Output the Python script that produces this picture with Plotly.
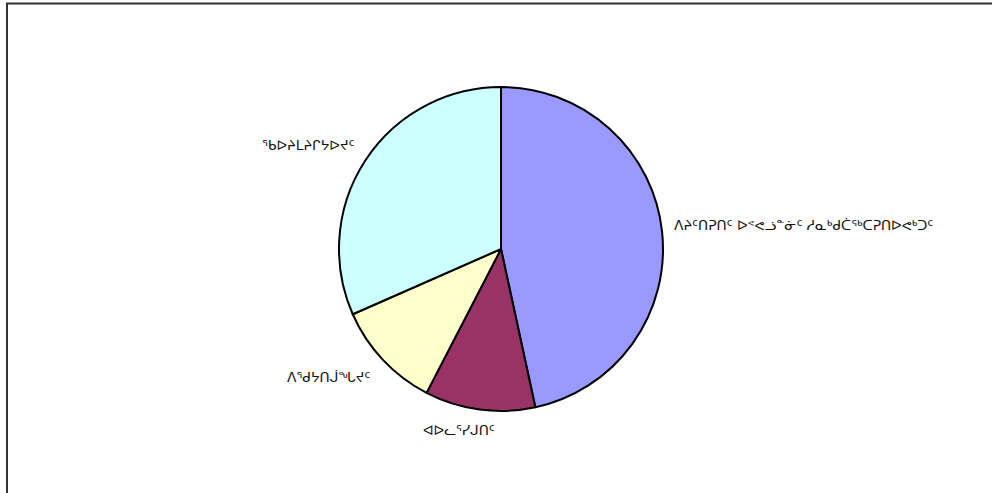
import math
import plotly.graph_objects as go

categories = [
    "ᐱᔨᑦᑎᕈᑎᑦ ᐅᕝᕙᓘᓐᓃᑦ ᓱᓇᒃᑯᑖᖅᑕᕈᑎᐅᕙᒃᑐᑦ",
    "ᐊᐅᓚᕐᓯᒍᑎᑦ",
    "ᐱᖁᔭᑎᒎᖓᔪᑦ",
    "ᖃᐅᔨᒪᔨᒋᔭᐅᔪᑦ",
]
values = [46.6, 11.0, 10.8, 31.6]
colors = ["#9999FF", "#993366", "#FFFFCC", "#CCFFFF"]

W, H = 992, 493
cx, cy, r = 501, 249, 162

fig = go.Figure(go.Pie(
    labels=categories,
    values=values,
    sort=False,
    direction="clockwise",
    rotation=0,
    marker=dict(colors=colors, line=dict(color="black", width=2)),
    textinfo="none",
    showlegend=False,
    hoverinfo="label+percent",
    domain=dict(x=[(cx - r) / W, (cx + r) / W],
                y=[(H - cy - r) / H, (H - cy + r) / H]),
))

# label placement derived from slice mid-angles
label_shift = [(0, 6), (-19, 0), (-4, 0), (0, 0)]
total = sum(values)
acc = 0.0
annotations = []
for lab, v, (dx, dy) in zip(categories, values, label_shift):
    mid = (acc + v / 2) / total * 2 * math.pi
    acc += v
    s, c = math.sin(mid), math.cos(mid)
    px = cx + (r + 10) * s
    py = cy - (r + 10) * c
    xa = "left" if s > 0.3 else ("right" if s < -0.3 else "center")
    ya = "bottom" if c > 0.3 else ("top" if c < -0.3 else "middle")
    annotations.append(dict(
        text=lab, x=px / W, y=1 - py / H, xref="paper", yref="paper",
        xanchor=xa, yanchor=ya, showarrow=False, xshift=dx, yshift=dy,
        font=dict(family="DejaVu Sans", size=13.8, color="#111111"),
    ))

fig.update_layout(
    width=W, height=H,
    margin=dict(l=0, r=0, t=0, b=0),
    paper_bgcolor="white",
    plot_bgcolor="white",
    annotations=annotations,
    shapes=[dict(type="rect", xref="paper", yref="paper",
                 x0=7 / W, x1=1.05, y0=-0.05, y1=1 - 3.5 / H,
                 line=dict(color="#333333", width=2), layer="below")],
)

fig.write_html("out.html", config={"displayModeBar": False},
               post_script="document.body.style.margin='0';document.body.style.overflow='hidden';")
